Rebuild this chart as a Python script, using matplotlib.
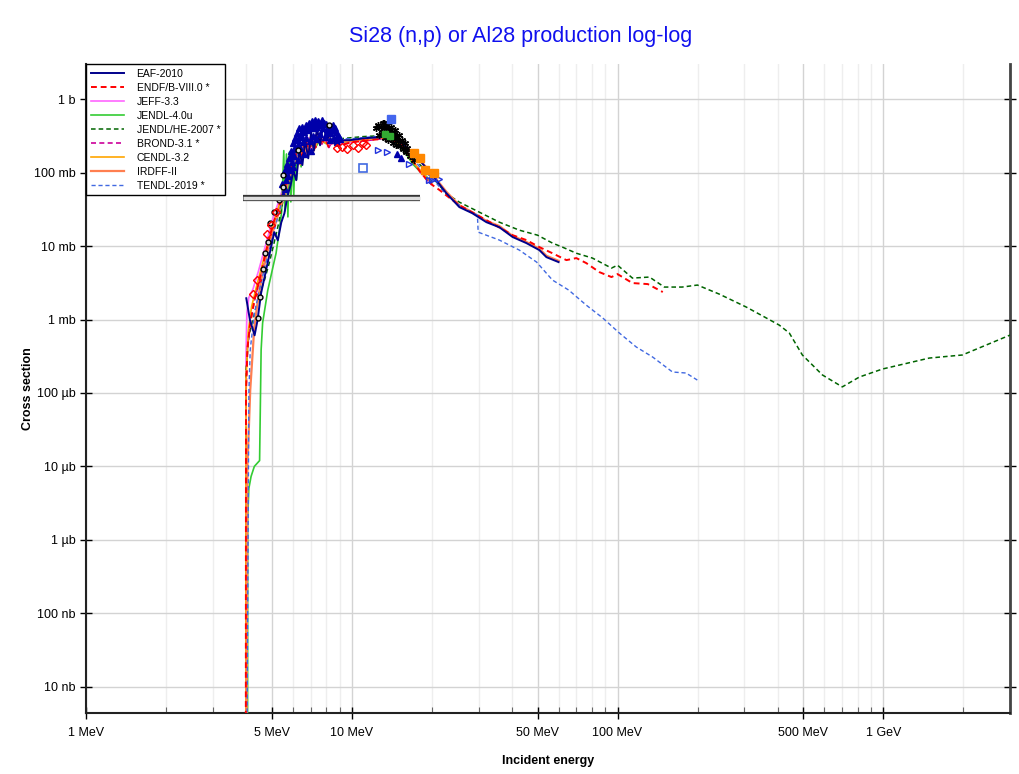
import numpy as np
import matplotlib
matplotlib.use('Agg')
import matplotlib.pyplot as plt
from matplotlib.ticker import FixedLocator, FixedFormatter, NullFormatter

plt.rcParams['font.family'] = ['Liberation Sans', 'DejaVu Sans']

# ---- data (energy in MeV, cross section in barn) ----
eaf_e = [4.01, 4.14, 4.31, 4.42, 4.56, 4.83, 5.11, 5.27, 5.43, 5.58, 5.73, 5.89, 6.03, 6.18, 6.35, 6.52,
         6.68, 6.86, 7.03, 7.2, 7.4, 7.6, 7.8, 8.07, 8.37, 8.69, 9.0, 9.8, 11.2, 12.7, 14.1, 15.1, 16.5,
         18.0, 20.1, 22.7, 25.4, 28.4, 32.1, 35.9, 40.3, 45.4, 50.8, 54.0, 60.0]
eaf_s = [1.95e-3, 9.8e-4, 6.1e-4, 9.8e-4, 2.3e-3, 6.0e-3, 0.0155, 0.012, 0.021, 0.028, 0.048, 0.068,
         0.108, 0.079, 0.20, 0.127, 0.277, 0.157, 0.355, 0.20, 0.40, 0.236, 0.443, 0.277, 0.379, 0.236,
         0.277, 0.277, 0.295, 0.304, 0.314, 0.277, 0.202, 0.148, 0.0925, 0.0526, 0.034, 0.0281, 0.0212,
         0.0181, 0.0133, 0.011, 0.00883, 0.00708, 0.00606]

endf_e = [3.99, 4.0, 4.05, 4.15, 4.3, 4.5, 4.7, 4.9, 5.1, 5.3, 5.5, 5.7, 5.9, 6.1, 6.3, 6.5, 6.7, 6.9,
          7.1, 7.3, 7.5, 7.7, 7.9, 8.2, 8.5, 8.8, 9.2, 10, 11, 12, 13, 14, 15, 16, 17, 18, 19, 20.1,
          21.4, 22.7, 25.4, 32.1, 40.3, 45.4, 50.8, 56.9, 64.2, 70, 76.3, 85.4, 94.9, 100, 113.8, 130, 148]
endf_s = [1e-12, 1e-4, 4e-4, 9e-4, 1.8e-3, 3.5e-3, 7e-3, 0.013, 0.022, 0.033, 0.05, 0.08, 0.11, 0.16,
          0.22, 0.17, 0.28, 0.2, 0.3, 0.22, 0.32, 0.24, 0.3, 0.22, 0.28, 0.23, 0.24, 0.26, 0.27, 0.28,
          0.29, 0.28, 0.26, 0.2, 0.145, 0.105, 0.083, 0.068, 0.058, 0.049, 0.036, 0.0226, 0.0141, 0.0121,
          0.0097, 0.0080, 0.00645, 0.00687, 0.00587, 0.00443, 0.00379, 0.00416, 0.00314, 0.00304, 0.00237]

jeff_e = [3.99, 4.0, 4.03, 4.1, 4.25, 4.45, 4.65, 4.85, 5.05, 5.25, 5.45, 5.65, 5.85, 6.05, 6.25, 6.45,
          6.65, 6.85, 7.05, 7.3, 7.6, 7.9, 8.3, 8.7, 9.2, 10, 11, 12, 13, 14, 15, 16, 17, 18, 19, 20]
jeff_s = [1e-12, 3e-4, 1.2e-3, 2.0e-3, 2.6e-3, 4.5e-3, 8e-3, 0.014, 0.024, 0.036, 0.055, 0.09, 0.13,
          0.18, 0.14, 0.25, 0.19, 0.3, 0.21, 0.33, 0.25, 0.31, 0.24, 0.27, 0.25, 0.26, 0.275, 0.285,
          0.29, 0.285, 0.25, 0.19, 0.14, 0.11, 0.09, 0.075]

jendl_e = [4.05, 4.06, 4.1, 4.18, 4.3, 4.5, 4.56, 4.62, 4.83, 5.04, 5.19, 5.34, 5.45, 5.55, 5.6, 5.68,
           5.75, 5.82, 5.9, 5.98, 6.05, 6.12, 6.2, 6.3, 6.45, 6.6, 6.8, 7.0, 7.3, 7.6, 8.0, 8.5, 9.0,
           10, 11, 12, 13, 14, 15, 16, 17, 18, 19, 20]
jendl_s = [1e-12, 2e-6, 5e-6, 7.3e-6, 1e-5, 1.2e-5, 3.85e-4, 9e-4, 2.5e-3, 5e-3, 8e-3, 0.0165, 0.03,
           0.20, 0.03, 0.18, 0.025, 0.19, 0.04, 0.17, 0.05, 0.2, 0.08, 0.22, 0.12, 0.26, 0.18, 0.3,
           0.22, 0.28, 0.25, 0.27, 0.26, 0.27, 0.28, 0.29, 0.3, 0.29, 0.24, 0.18, 0.13, 0.105, 0.09, 0.075]

jendlhe_e = [3.99, 4.0, 4.1, 4.3, 4.5, 4.7, 4.9, 5.1, 5.3, 5.5, 5.7, 6.0, 6.3, 6.6, 7.0, 7.5, 8.0, 8.5,
             9.0, 10, 11, 12, 13, 14, 15, 16, 17, 18, 20.2, 22.7, 25.4, 30.2, 35.9, 42.7, 50, 56.9,
             62, 70, 80.5, 94.9, 100, 113.8, 131.9, 150, 175, 199.8, 241.5, 305, 363, 406, 443, 496,
             590, 701, 813, 993, 1490, 1983, 3000]
jendlhe_s = [1e-12, 2e-4, 6e-4, 1.2e-3, 2.2e-3, 3.5e-3, 6e-3, 0.011, 0.02, 0.04, 0.07, 0.12, 0.17, 0.2,
             0.23, 0.26, 0.28, 0.29, 0.29, 0.30, 0.31, 0.315, 0.32, 0.31, 0.27, 0.21, 0.16, 0.13, 0.085,
             0.052, 0.0397, 0.029, 0.0212, 0.0165, 0.0141, 0.011, 0.0097, 0.0080, 0.00687, 0.00502,
             0.0055, 0.00367, 0.00379, 0.00277, 0.00277, 0.00295, 0.00222, 0.00148, 0.00105, 0.00084,
             0.000655, 0.000329, 0.000176, 0.000121, 0.000165, 0.000212, 0.000299, 0.000329, 0.000615]

brond_e = [3.99, 4.0, 4.05, 4.15, 4.3, 4.5, 4.7, 4.9, 5.1, 5.3, 5.5, 5.7, 5.9, 6.1, 6.3, 6.5, 6.7, 6.9,
           7.1, 7.3, 7.5, 7.7, 7.9, 8.2, 8.5, 8.8, 9.2, 10, 11, 12, 13, 14, 15, 16, 17, 18, 19, 20]
brond_s = [1e-12, 1e-4, 4e-4, 9e-4, 1.8e-3, 3.5e-3, 7e-3, 0.013, 0.022, 0.033, 0.05, 0.08, 0.11, 0.16,
           0.22, 0.17, 0.28, 0.2, 0.3, 0.22, 0.32, 0.24, 0.3, 0.22, 0.28, 0.23, 0.24, 0.26, 0.27, 0.28,
           0.29, 0.28, 0.26, 0.2, 0.145, 0.105, 0.083, 0.068]

cendl_e = [3.99, 4.0, 4.08, 4.2, 4.4, 4.6, 4.8, 5.0, 5.2, 5.4, 5.6, 5.8, 6.0, 6.2, 6.4, 6.6, 6.8, 7.0,
           7.3, 7.6, 8.0, 8.5, 9.0, 10, 11, 12, 13, 14, 15, 16, 17, 18, 19, 20]
cendl_s = [1e-12, 1.5e-4, 7e-4, 1.5e-3, 3e-3, 5.5e-3, 0.01, 0.017, 0.027, 0.042, 0.065, 0.1, 0.15,
           0.2, 0.16, 0.26, 0.2, 0.29, 0.23, 0.3, 0.25, 0.28, 0.26, 0.27, 0.28, 0.29, 0.3, 0.29, 0.25,
           0.19, 0.14, 0.11, 0.088, 0.072]

irdff_e = [3.99, 4.05, 4.15, 4.3, 4.45, 4.6, 4.8, 5.0, 5.2, 5.4, 5.6, 5.8, 6.0, 6.2, 6.4, 6.6, 6.8,
           7.0, 7.2, 7.5, 7.8, 8.1, 8.5, 9.0, 10, 11.2, 12.7, 14.1, 15.1, 16.5, 18.0, 20.1, 22.7, 25.4,
           28.4, 32.1, 35.9, 40.3, 45.4, 50.8, 54.0, 60.0]
irdff_s = [1e-12, 1e-5, 1.1e-4, 8e-4, 2e-3, 4e-3, 8e-3, 0.014, 0.022, 0.035, 0.05, 0.08, 0.12, 0.17,
           0.13, 0.24, 0.18, 0.3, 0.2, 0.34, 0.26, 0.32, 0.25, 0.27, 0.275, 0.29, 0.3, 0.31, 0.28, 0.205,
           0.15, 0.095, 0.055, 0.036, 0.029, 0.022, 0.0188, 0.0138, 0.0114, 0.0092, 0.0074, 0.0063]

tendl_e = [3.99, 4.1, 4.15, 4.3, 4.5, 4.7, 4.9, 5.1, 5.3, 5.5, 5.7, 5.9, 6.2, 6.5, 6.8, 7.2, 7.6, 8.0,
           8.5, 9.0, 10, 11, 12, 13, 14, 15, 16, 17, 18, 20, 22.7, 25.4, 29.7, 29.9, 35.9, 42.7, 49.6,
           56.9, 65.5, 76.3, 88, 101.6, 117.6, 135.5, 161, 181, 199.6]
tendl_s = [1e-12, 1e-4, 3.9e-4, 1.2e-3, 2.6e-3, 5e-3, 9e-3, 0.016, 0.027, 0.045, 0.075, 0.11, 0.17,
           0.21, 0.25, 0.27, 0.28, 0.28, 0.285, 0.29, 0.29, 0.3, 0.31, 0.31, 0.3, 0.27, 0.21, 0.16,
           0.12, 0.085, 0.05, 0.036, 0.0264, 0.0155, 0.0121, 0.00883, 0.00606, 0.00345, 0.00252,
           0.00157, 0.00105, 0.000655, 0.000423, 0.000309, 0.000193, 0.000187, 0.00015]

# experimental points
navy_e = [5.45, 5.5, 5.55, 5.6, 5.65, 5.7, 5.75, 5.8, 5.85, 5.9, 5.95, 6.0, 6.0, 6.05, 6.1, 6.15, 6.2,
          6.25, 6.3, 6.3, 6.35, 6.4, 6.45, 6.5, 6.55, 6.6, 6.6, 6.7, 6.75, 6.8, 6.9, 6.95, 7.0, 7.0,
          7.1, 7.15, 7.2, 7.3, 7.35, 7.4, 7.5, 7.6, 7.7, 7.8, 7.9, 8.0, 8.1, 8.2, 8.3, 8.4, 8.5, 8.6,
          8.7, 8.8, 8.9, 9.0, 14.8, 15.3,
          5.62, 5.78, 5.92, 6.08, 6.22, 6.38, 6.52, 6.68, 6.85, 7.05, 7.25, 7.45, 7.65, 7.85, 8.05,
          8.25, 8.45, 8.65, 8.95]
navy_s = [0.07, 0.05, 0.10, 0.06, 0.08, 0.13, 0.09, 0.16, 0.11, 0.20, 0.14, 0.25, 0.12, 0.17, 0.30,
          0.21, 0.35, 0.24, 0.28, 0.15, 0.40, 0.22, 0.33, 0.42, 0.26, 0.36, 0.18, 0.45, 0.30, 0.38,
          0.48, 0.27, 0.40, 0.20, 0.50, 0.32, 0.44, 0.52, 0.29, 0.42, 0.47, 0.34, 0.53, 0.40, 0.31,
          0.46, 0.36, 0.42, 0.28, 0.38, 0.45, 0.30, 0.36, 0.26, 0.33, 0.29, 0.18, 0.16,
          0.11, 0.12, 0.17, 0.21, 0.28, 0.31, 0.37, 0.39, 0.43, 0.45, 0.41, 0.50, 0.44, 0.48, 0.39,
          0.35, 0.40, 0.41, 0.31]

circ_e = [4.42, 4.53, 4.62, 4.72, 4.83, 4.94, 5.11, 5.34, 5.5, 5.52, 6.27, 8.21]
circ_s = [1.04e-3, 2.03e-3, 4.9e-3, 8.1e-3, 0.0114, 0.0204, 0.0294, 0.0423, 0.0643, 0.0925, 0.202, 0.443]

diam_e = [4.24, 4.4, 4.8, 4.97, 5.19, 8.8, 9.2, 9.6, 10.1, 10.6, 11.0, 11.3]
diam_s = [2.2e-3, 3.5e-3, 0.0145, 0.0194, 0.0294, 0.22, 0.224, 0.21, 0.237, 0.22, 0.255, 0.24]

star_e = [12.3, 12.5, 12.7, 12.9, 13.0, 13.1, 13.2, 13.3, 13.4, 13.5, 13.6, 13.7, 13.8, 13.9, 14.0,
          14.1, 14.2, 14.3, 14.4, 14.5, 14.6, 14.7, 14.8, 14.9, 15.0, 15.2, 15.4, 15.6, 15.8, 16.0,
          16.2, 16.5, 16.8, 17.2]
star_s = [0.40, 0.45, 0.33, 0.42, 0.36, 0.47, 0.47, 0.30, 0.40, 0.35, 0.45, 0.28, 0.38, 0.33, 0.42,
          0.30, 0.36, 0.25, 0.34, 0.29, 0.38, 0.24, 0.31, 0.27, 0.33, 0.23, 0.28, 0.21, 0.25, 0.19,
          0.22, 0.17, 0.19, 0.15]

tri_e = [12.6, 13.6, 16.4, 19.6, 20.0, 21.3]
tri_s = [0.202, 0.192, 0.131, 0.0793, 0.08, 0.081]

orange_e = [17.2, 18.0, 18.8, 20.4]
orange_s = [0.183, 0.16, 0.108, 0.0993]

green_e = [13.3, 13.9]
green_s = [0.34, 0.32]

bluesq_e = [11.0, 14.0]
bluesq_s = [0.115, 0.546]

bar_e = [3.89, 18.08]
bar_s = [0.0446, 0.0446]

xticks = [1, 5, 10, 50, 100, 500, 1000]
xlabels = ['1 MeV', '5 MeV', '10 MeV', '50 MeV', '100 MeV', '500 MeV', '1 GeV']
yticks = [1, 0.1, 0.01, 1e-3, 1e-4, 1e-5, 1e-6, 1e-7, 1e-8]
ylabels = ['1 b', '100 mb', '10 mb', '1 mb', '100 µb', '10 µb', '1 µb', '100 nb', '10 nb']

fig = plt.figure(figsize=(10.2, 7.74), dpi=100)
ax = fig.add_axes([0.0843, 0.079, 0.906, 0.838])
ax.set_xscale('log')
ax.set_yscale('log')

dash = (0, (3, 2))
ax.plot(eaf_e, eaf_s, color='#00008b', lw=1.4, label='EAF-2010', zorder=5)
ax.plot(endf_e, endf_s, color='#ff0000', lw=1.4, ls=dash, label='ENDF/B-VIII.0 *', zorder=4)
ax.plot(jeff_e, jeff_s, color='#ff66ff', lw=1.2, label='JEFF-3.3', zorder=3)
ax.plot(jendl_e, jendl_s, color='#33cc33', lw=1.2, label='JENDL-4.0u', zorder=3)
ax.plot(jendlhe_e, jendlhe_s, color='#006400', lw=1.1, ls=dash, label='JENDL/HE-2007 *', zorder=3)
ax.plot(brond_e, brond_s, color='#cc0099', lw=1.2, ls=dash, label='BROND-3.1 *', zorder=3)
ax.plot(cendl_e, cendl_s, color='#ffa500', lw=1.2, label='CENDL-3.2', zorder=3)
ax.plot(irdff_e, irdff_s, color='#ff7f50', lw=1.6, label='IRDFF-II', zorder=3)
ax.plot(tendl_e, tendl_s, color='#4169e1', lw=1.0, ls=dash, label='TENDL-2019 *', zorder=3)

# experimental data
ax.plot(navy_e, navy_s, ls='none', marker='^', ms=4, color='#0000aa', zorder=6)
ax.plot(circ_e, circ_s, ls='none', marker='o', ms=3.5, mfc='#dddddd', mec='black', mew=1, zorder=6)
ax.plot(diam_e, diam_s, ls='none', marker='D', ms=4, mfc='none', mec='#ff0000', mew=1, zorder=6)
ax.plot(star_e, star_s, ls='none', marker=(6, 2, 0), ms=5, color='black', mew=1, zorder=6)
ax.plot(tri_e, tri_s, ls='none', marker='>', ms=4.5, mfc='none', mec='#2233dd', mew=1, zorder=6)
ax.plot(orange_e, orange_s, ls='none', marker='s', ms=5.5, color='#ff8800', zorder=6)
ax.plot(green_e, green_s, ls='none', marker='s', ms=4.5, color='#33aa33', zorder=6)
ax.plot(bluesq_e[:1], bluesq_s[:1], ls='none', marker='s', ms=5.5, mfc='white',
        mec='#4169e1', mew=1.2, zorder=6)
ax.plot(bluesq_e[1:], bluesq_s[1:], ls='none', marker='s', ms=5.5, color='#4466ee', zorder=6)
ax.plot(bar_e, bar_s, color='#333333', lw=4.5, solid_capstyle='butt', zorder=6)
ax.plot(bar_e, bar_s, color='#dddddd', lw=2.5, solid_capstyle='butt', zorder=7)

ax.set_xlim(1, 3000)
ax.set_ylim(4.4e-9, 3.0)

minors = [m * 10.0 ** k for k in range(0, 4) for m in range(2, 10) if m != 5]
ax.xaxis.set_major_locator(FixedLocator(xticks))
ax.xaxis.set_major_formatter(FixedFormatter(xlabels))
ax.xaxis.set_minor_locator(FixedLocator(minors))
ax.xaxis.set_minor_formatter(NullFormatter())
ax.yaxis.set_major_locator(FixedLocator(yticks))
ax.yaxis.set_major_formatter(FixedFormatter(ylabels))
ax.yaxis.set_minor_locator(FixedLocator([]))

ax.grid(True, which='major', color='#d3d3d3', lw=1.0)
ax.grid(True, which='minor', axis='x', color='#eeeeee', lw=1.0)
ax.set_axisbelow(True)

ax.tick_params(axis='both', which='major', direction='inout', length=8, width=1, labelsize=9,
               colors='black', right=True)
ax.tick_params(axis='x', which='minor', direction='in', length=4, width=0.8, color='#666666')
ax.tick_params(axis='x', pad=6)

ax.spines['top'].set_visible(False)
for s in ['left', 'bottom']:
    ax.spines[s].set_linewidth(1.5)
    ax.spines[s].set_color('#222222')
ax.spines['right'].set_linewidth(2)
ax.spines['right'].set_color('#444444')

ax.set_xlabel('Incident energy', fontsize=9, fontweight='bold', labelpad=12)
ax.set_ylabel('Cross section', fontsize=9, fontweight='bold')
ax.yaxis.set_label_coords(-0.056, 0.5)
fig.suptitle('Si28 (n,p) or Al28 production log-log', x=0.51, y=0.966, fontsize=15.5, color='#1010ee')

leg = ax.legend(loc='upper left', bbox_to_anchor=(0, 1), borderaxespad=0, fontsize=7.5,
                labelspacing=0.38, handlelength=3.2, handletextpad=1.2, borderpad=0.45,
                fancybox=False, framealpha=1, edgecolor='black')
leg.get_frame().set_linewidth(1.0)
leg.set_zorder(10)

fig.savefig('out.png', dpi=100)
